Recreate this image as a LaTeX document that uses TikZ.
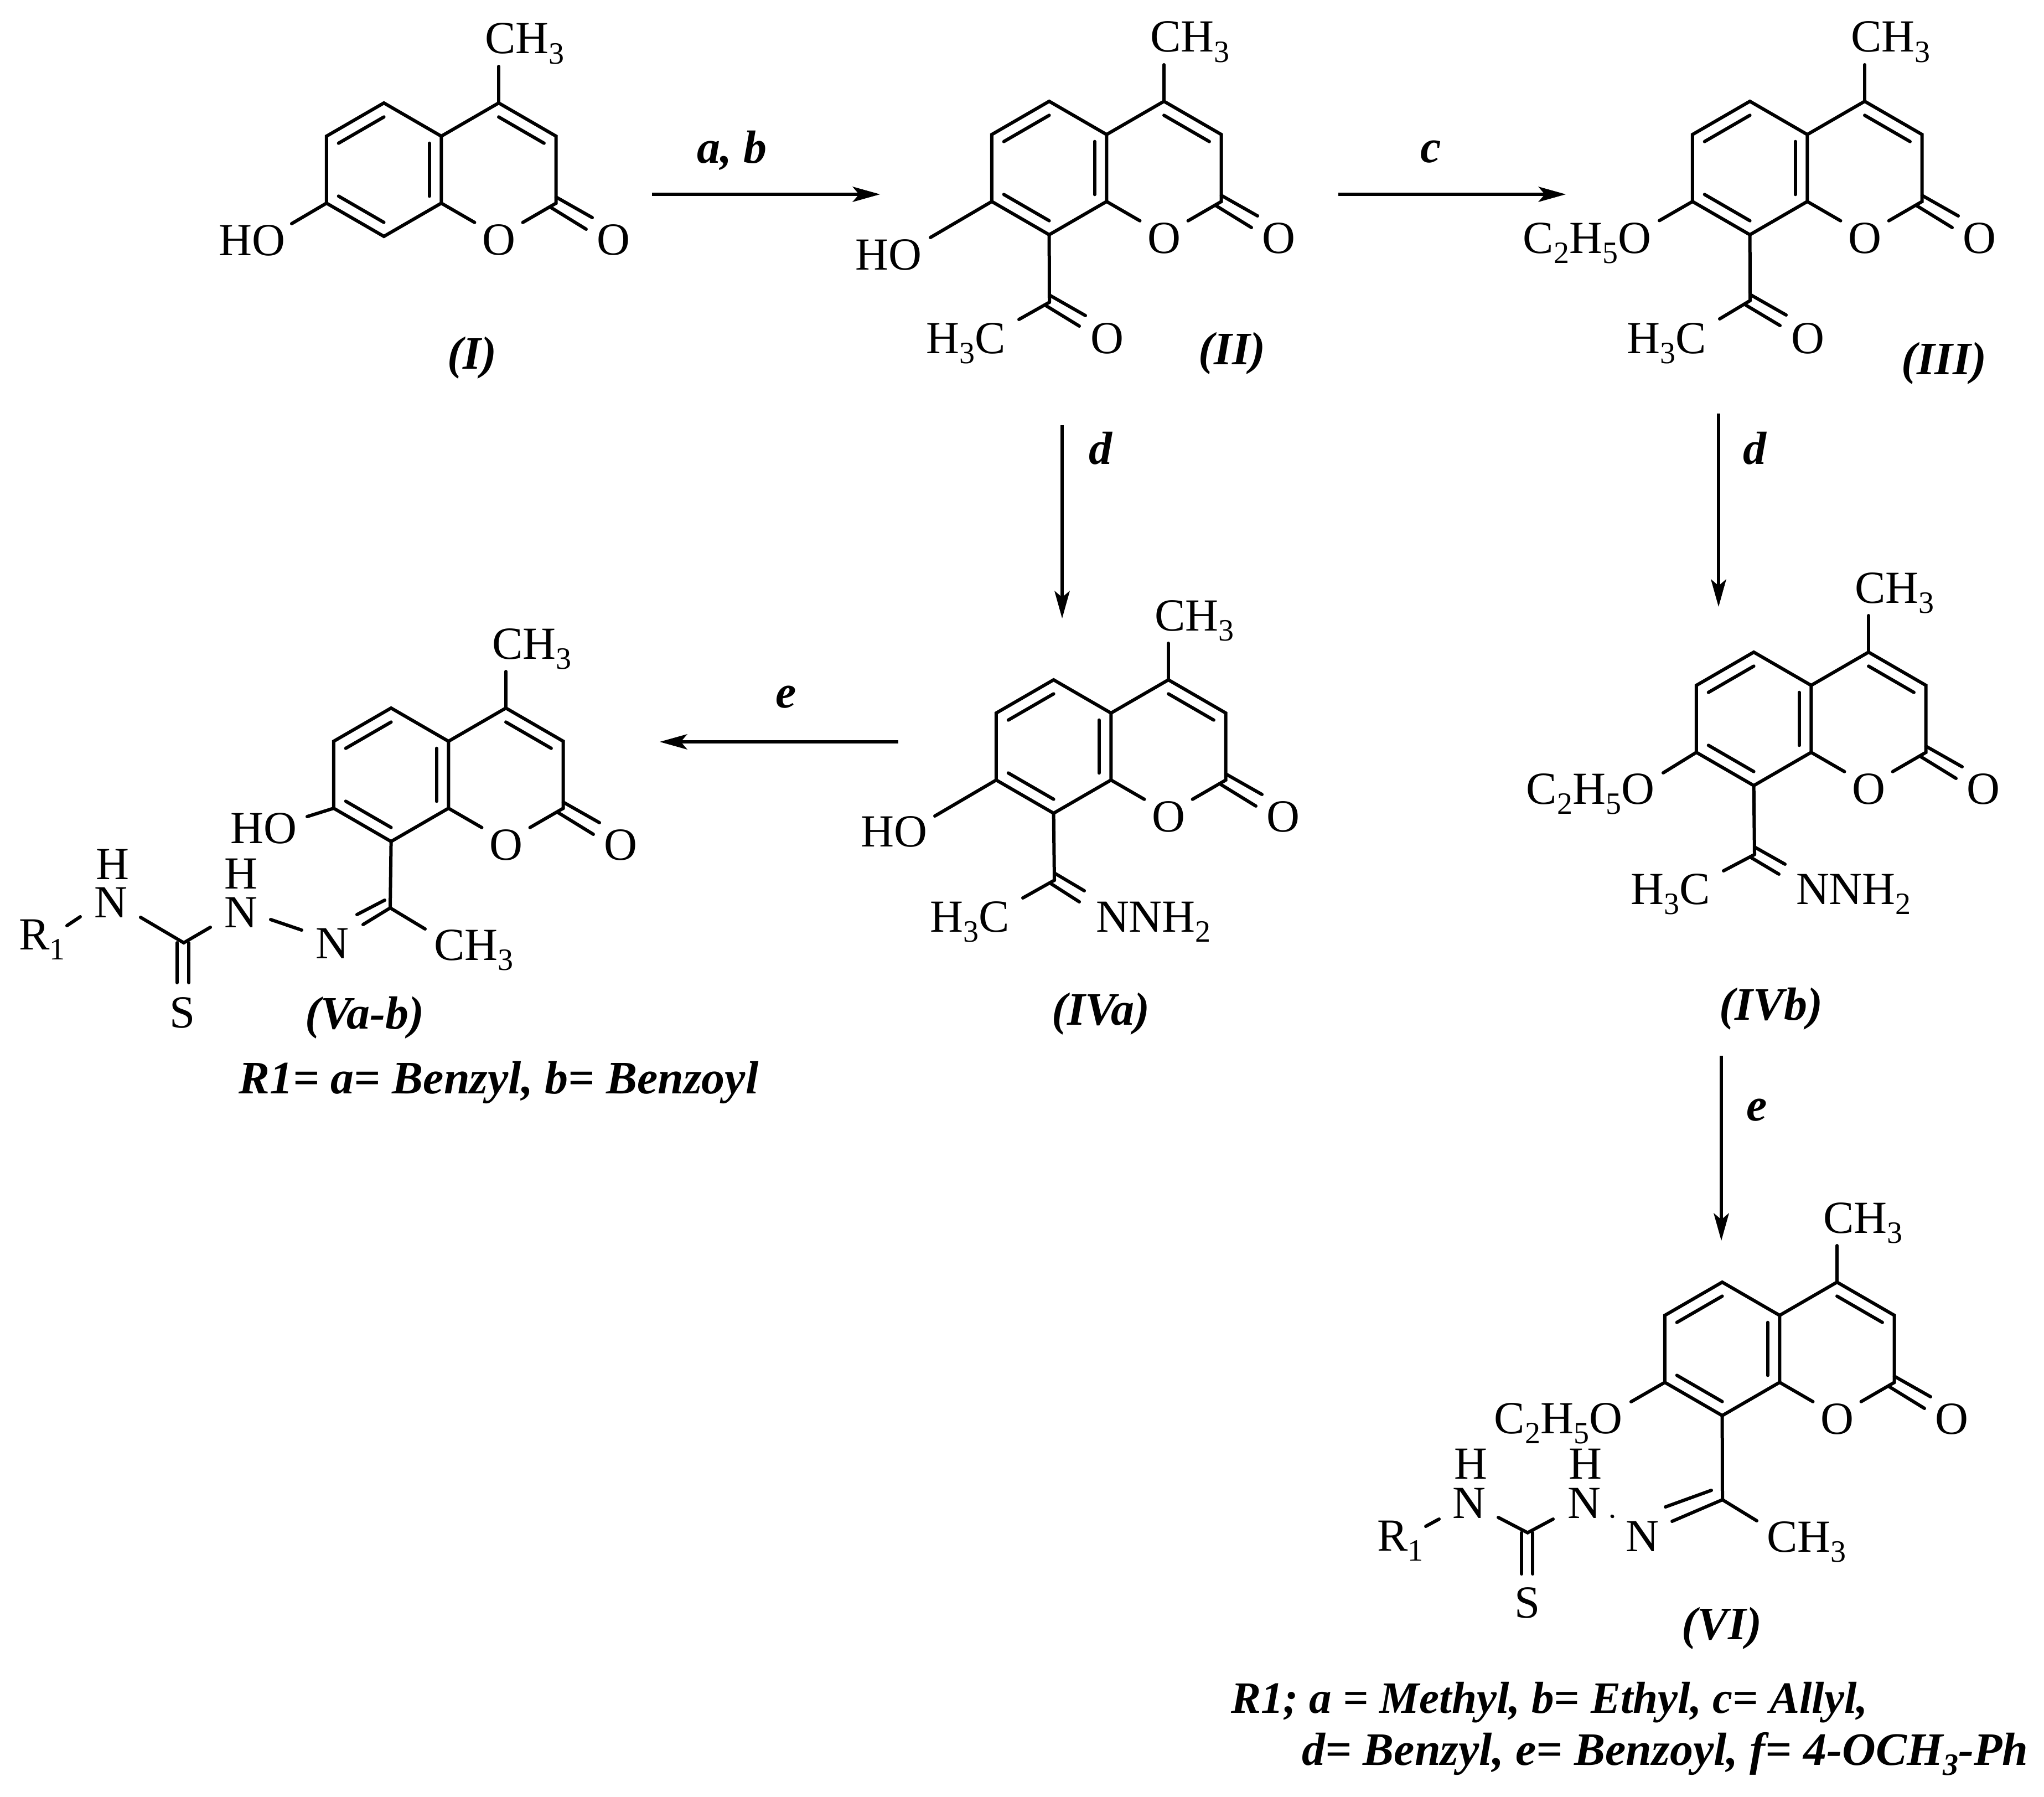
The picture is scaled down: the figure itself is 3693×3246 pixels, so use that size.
\documentclass[tikz,border=0pt]{standalone}
\usepackage{fontspec}
\setmainfont{Liberation Serif}
\usetikzlibrary{arrows.meta,calc}
\newcommand{\sbs}[1]{\raisebox{-0.22em}{\fontsize{56}{56}\selectfont #1}}
\newcommand{\ssb}[1]{\raisebox{-0.22em}{\fontsize{56}{56}\selectfont\bfseries\itshape #1}}
\tikzset{
  bond/.style={line width=6pt,line cap=round,line join=miter},
  rxn/.style={line width=6pt,-{Stealth[length=50pt,width=28pt,inset=12pt,line width=0pt]}},
  atom/.style={inner sep=0pt,outer sep=0pt,font=\fontsize{83}{83}\selectfont},
  lab/.style={inner sep=0pt,outer sep=0pt,font=\fontsize{84}{84}\selectfont\bfseries\itshape},
}
% coumarin core: prefix, x and y of C4
\newcommand{\coum}[3]{%
 \begin{scope}[shift={(#2,#3)}]
  \coordinate (#1-C4) at (0,0);
  \coordinate (#1-C3) at (103.7,60);
  \coordinate (#1-C2) at (103.7,181);
  \coordinate (#1-Ov) at (0,241);
  \coordinate (#1-C8a) at (-103.7,181);
  \coordinate (#1-C4a) at (-103.7,60);
  \coordinate (#1-C5) at (-207.4,0);
  \coordinate (#1-C6) at (-311.1,60);
  \coordinate (#1-C7) at (-311.1,181);
  \coordinate (#1-C8) at (-207.4,241);
  \coordinate (#1-cb) at (-207.4,120.5);
  \coordinate (#1-cp) at (0,120.5);
  \coordinate (#1-Me) at (0,-66);
  \coordinate (#1-cou) at (103.7,170);
  \coordinate (#1-coue) at (169,207);
  \coordinate (#1-col) at (94.7,189);
  \coordinate (#1-cole) at (158,228);
  \node[atom,anchor=base] (#1-O1) at (0,274.5) {O};
  \node[atom,anchor=base] (#1-O2) at (207.4,274.5) {O};
  \node[atom,anchor=base west] (#1-CH3) at (-25,-89) {CH\sbs{3}};
  \draw[bond] (#1-C8a) -- (#1-C8) -- (#1-C7) -- (#1-C6) -- (#1-C5) -- (#1-C4a) -- cycle;
  \draw[bond] (#1-C4a) -- (#1-C4) -- (#1-C3) -- (#1-C2) -- ($(#1-C2)!.58!(#1-Ov)$);
  \draw[bond] (#1-C8a) -- ($(#1-C8a)!.58!(#1-Ov)$);
  \draw[bond] (#1-C4) -- (#1-Me);
  \draw[bond] (#1-cou) -- (#1-coue);
  \draw[bond] (#1-col) -- (#1-cole);
  \draw[bond] ($(#1-C6)!.21!(#1-cb)$) -- ($(#1-C5)!.21!(#1-cb)$);
  \draw[bond] ($(#1-C7)!.21!(#1-cb)$) -- ($(#1-C8)!.21!(#1-cb)$);
  \draw[bond] ($(#1-C4a)!.21!(#1-cb)$) -- ($(#1-C8a)!.21!(#1-cb)$);
  \draw[bond] ($(#1-C4)!.21!(#1-cp)$) -- ($(#1-C3)!.21!(#1-cp)$);
 \end{scope}}
\begin{document}
\begin{tikzpicture}[x=1pt,y=-1pt]
\useasboundingbox (0,0) rectangle (3693,3246);
% ---------- I
\coum{I}{901}{186}
\node[atom,anchor=base east] (I-OH) at (515,461.5) {HO};
\coordinate (I-OHe) at (527,404);
\draw[bond] (I-C7) -- (I-OHe);
\node[lab,anchor=base] (I-lab) at (853,666) {(I)};
% ---------- II
\coum{II}{2103}{183}
\node[atom,anchor=base east] (II-OH) at (1665,487) {HO};
\coordinate (II-OHe) at (1681,429);
\draw[bond] (II-C7) -- (II-OHe);
\coordinate (II-Ac) at (1896,546);
\draw[bond] (II-C8) -- (II-Ac);
\coordinate (II-Me) at (1841,577);
\draw[bond] (II-Ac) -- (II-Me);
\coordinate (II-du1) at (1896,533); \coordinate (II-du2) at (1961,570);
\coordinate (II-dl1) at (1888,551); \coordinate (II-dl2) at (1950,589);
\draw[bond] (II-du1) -- (II-du2);
\draw[bond] (II-dl1) -- (II-dl2);
\node[atom,anchor=base east] (II-H3C) at (1817,638) {H\sbs{3}C};
\node[atom,anchor=base] (II-Oac) at (2000,638) {O};
\node[lab,anchor=base] (II-lab) at (2226,658) {(II)};
% ---------- III
\coum{III}{3369}{183}
\node[atom,anchor=base east] (III-OEt) at (2983,457) {C\sbs{2}H\sbs{5}O};
\coordinate (III-OEte) at (2998,398.5);
\draw[bond] (III-C7) -- (III-OEte);
\coordinate (III-Ac) at (3162,543);
\draw[bond] (III-C8) -- (III-Ac);
\coordinate (III-Me) at (3107,576);
\draw[bond] (III-Ac) -- (III-Me);
\coordinate (III-du1) at (3162,532); \coordinate (III-du2) at (3227,569);
\coordinate (III-dl1) at (3154,551); \coordinate (III-dl2) at (3216,588);
\draw[bond] (III-du1) -- (III-du2);
\draw[bond] (III-dl1) -- (III-dl2);
\node[atom,anchor=base east] (III-H3C) at (3083,638) {H\sbs{3}C};
\node[atom,anchor=base] (III-Oac) at (3266,638) {O};
\node[lab,anchor=base] (III-lab) at (3512,676) {(III)};
% ---------- IVa
\coum{IVa}{2111}{1228}
\node[atom,anchor=base east] (IVa-OH) at (1675,1529) {HO};
\coordinate (IVa-OHe) at (1689,1474);
\draw[bond] (IVa-C7) -- (IVa-OHe);
\coordinate (IVa-Cn) at (1905,1590);
\draw[bond] (IVa-C8) -- (IVa-Cn);
\coordinate (IVa-Me) at (1848,1622);
\draw[bond] (IVa-Cn) -- (IVa-Me);
\coordinate (IVa-du1) at (1905,1577); \coordinate (IVa-du2) at (1959,1609);
\coordinate (IVa-dl1) at (1897,1595); \coordinate (IVa-dl2) at (1950,1629);
\draw[bond] (IVa-du1) -- (IVa-du2);
\draw[bond] (IVa-dl1) -- (IVa-dl2);
\node[atom,anchor=base east] (IVa-H3C) at (1824,1683) {H\sbs{3}C};
\node[atom,anchor=base west] (IVa-NNH2) at (1980,1683) {NNH\sbs{2}};
\node[lab,anchor=base] (IVa-lab) at (1989,1851) {(IVa)};
% ---------- IVb
\coum{IVb}{3376}{1178}
\node[atom,anchor=base east] (IVb-OEt) at (2989,1452.6) {C\sbs{2}H\sbs{5}O};
\coordinate (IVb-OEte) at (3005,1396);
\draw[bond] (IVb-C7) -- (IVb-OEte);
\coordinate (IVb-Cn) at (3170,1543.5);
\draw[bond] (IVb-C8) -- (IVb-Cn);
\coordinate (IVb-Me) at (3114,1573);
\draw[bond] (IVb-Cn) -- (IVb-Me);
\coordinate (IVb-du1) at (3170,1530); \coordinate (IVb-du2) at (3225,1561);
\coordinate (IVb-dl1) at (3162,1548); \coordinate (IVb-dl2) at (3214,1579);
\draw[bond] (IVb-du1) -- (IVb-du2);
\draw[bond] (IVb-dl1) -- (IVb-dl2);
\node[atom,anchor=base east] (IVb-H3C) at (3089.5,1633) {H\sbs{3}C};
\node[atom,anchor=base west] (IVb-NNH2) at (3245,1633) {NNH\sbs{2}};
\node[lab,anchor=base] (IVb-lab) at (3200,1842) {(IVb)};
% ---------- Va-b
\coum{V}{914}{1279}
\node[atom,anchor=base east] (V-OH) at (536,1523) {HO};
\coordinate (V-OHe) at (555,1475);
\draw[bond] (V-C7) -- (V-OHe);
\coordinate (V-Cn) at (705,1640);
\draw[bond] (V-C8) -- (V-Cn);
\coordinate (V-Me) at (768,1678);
\draw[bond] (V-Cn) -- (V-Me);
\node[atom,anchor=base west] (V-CH3b) at (784,1734) {CH\sbs{3}};
\node[atom,anchor=base] (V-N3) at (600,1731) {N};
\coordinate (V-du1) at (645,1652); \coordinate (V-du2) at (695,1626);
\coordinate (V-dl1) at (656,1670);
\draw[bond] (V-du1) -- (V-du2);
\draw[bond] (V-dl1) -- (V-Cn);
\node[atom,anchor=base] (V-N2) at (435,1675) {N};
\node[atom,anchor=base] (V-H2) at (435,1605) {H};
\coordinate (V-nn1) at (489,1661); \coordinate (V-nn2) at (545,1680);
\draw[bond] (V-nn1) -- (V-nn2);
\coordinate (V-Cs) at (332,1703);
\coordinate (V-cr) at (380,1675); \coordinate (V-cl) at (254,1657);
\draw[bond] (V-cl) -- (V-Cs) -- (V-cr);
\node[atom,anchor=base] (V-N1) at (200,1657) {N};
\node[atom,anchor=base] (V-H1) at (203.6,1588) {H};
\node[atom,anchor=base west] (V-R) at (34,1715) {R\sbs{1}};
\coordinate (V-r1) at (121,1672); \coordinate (V-r2) at (145,1656);
\draw[bond] (V-r1) -- (V-r2);
\coordinate (V-s1) at (320,1703); \coordinate (V-s1e) at (320,1775);
\coordinate (V-s2) at (341,1703); \coordinate (V-s2e) at (341,1775);
\draw[bond] (V-s1) -- (V-s1e);
\draw[bond] (V-s2) -- (V-s2e);
\node[atom,anchor=base] (V-S) at (330,1856) {S};
\node[lab,anchor=base] (V-lab) at (659,1858) {(Va-b)};
\node[lab,anchor=base west] (V-note) at (431,1975) {R1= a= Benzyl, b= Benzoyl};
% ---------- VI
\coum{VI}{3319}{2316}
\node[atom,anchor=base east] (VI-OEt) at (2931,2589) {C\sbs{2}H\sbs{5}O};
\coordinate (VI-OEte) at (2947,2532);
\draw[bond] (VI-C7) -- (VI-OEte);
\coordinate (VI-Cn) at (3112,2709);
\draw[bond] (VI-C8) -- (VI-Cn);
\coordinate (VI-Me) at (3174,2747);
\draw[bond] (VI-Cn) -- (VI-Me);
\node[atom,anchor=base west] (VI-CH3b) at (3192,2803.5) {CH\sbs{3}};
\node[atom,anchor=base] (VI-N3) at (2967,2802) {N};
\coordinate (VI-du1) at (3009,2722); \coordinate (VI-du2) at (3092,2692);
\coordinate (VI-dl1) at (3021,2748);
\draw[bond] (VI-du1) -- (VI-du2);
\draw[bond] (VI-dl1) -- (VI-Cn);
\node[atom,anchor=base] (VI-N2) at (2862,2742) {N};
\node[atom,anchor=base] (VI-H2) at (2864,2671) {H};
\coordinate (VI-nn1) at (2912.5,2738.7); \coordinate (VI-nn2) at (2913.5,2739.3);
\draw[bond] (VI-nn1) -- (VI-nn2);
\coordinate (VI-Cs) at (2760,2768.6);
\coordinate (VI-cr) at (2806,2744); \coordinate (VI-cl) at (2707,2741);
\draw[bond] (VI-cl) -- (VI-Cs) -- (VI-cr);
\node[atom,anchor=base] (VI-N1) at (2654,2742) {N};
\node[atom,anchor=base] (VI-H1) at (2657,2671) {H};
\node[atom,anchor=base west] (VI-R) at (2488.5,2801.5) {R\sbs{1}};
\coordinate (VI-r1) at (2576,2757); \coordinate (VI-r2) at (2600,2744);
\draw[bond] (VI-r1) -- (VI-r2);
\coordinate (VI-s1) at (2749.4,2768.6); \coordinate (VI-s1e) at (2749.4,2843);
\coordinate (VI-s2) at (2769.4,2768.6); \coordinate (VI-s2e) at (2769.4,2843);
\draw[bond] (VI-s1) -- (VI-s1e);
\draw[bond] (VI-s2) -- (VI-s2e);
\node[atom,anchor=base] (VI-S) at (2760,2922) {S};
\node[lab,anchor=base] (VI-lab) at (3111,2961) {(VI)};
\node[lab,anchor=base west,font=\fontsize{81}{81}\selectfont\bfseries\itshape] (VI-note1) at (2224,3094) {R1; a = Methyl, b= Ethyl, c= Allyl,};
\node[lab,anchor=base west] (VI-note2) at (2352,3188) {d= Benzyl, e= Benzoyl, f= 4-OCH\ssb{3}-Ph};
% ---------- reaction arrows
\coordinate (ab1) at (1178,351); \coordinate (ab2) at (1590,351);
\draw[rxn] (ab1) -- (ab2);
\node[lab,anchor=base] (ab-lab) at (1322,294) {a, b};
\coordinate (c1) at (2418,351); \coordinate (c2) at (2829,351);
\draw[rxn] (c1) -- (c2);
\node[lab,anchor=base] (c-lab) at (2585,293) {c};
\coordinate (d1) at (1919,768); \coordinate (d2) at (1919,1117);
\draw[rxn] (d1) -- (d2);
\node[lab,anchor=base] (d1-lab) at (1988,838) {d};
\coordinate (d3) at (3105,747); \coordinate (d4) at (3105,1096);
\draw[rxn] (d3) -- (d4);
\node[lab,anchor=base] (d2-lab) at (3170,838) {d};
\coordinate (e1) at (1623,1340); \coordinate (e2) at (1192,1340);
\draw[rxn] (e1) -- (e2);
\node[lab,anchor=base] (e1-lab) at (1420,1278) {e};
\coordinate (e3) at (3110,1907); \coordinate (e4) at (3110,2241);
\draw[rxn] (e3) -- (e4);
\node[lab,anchor=base] (e2-lab) at (3174,2024) {e};
\end{tikzpicture}
\end{document}
